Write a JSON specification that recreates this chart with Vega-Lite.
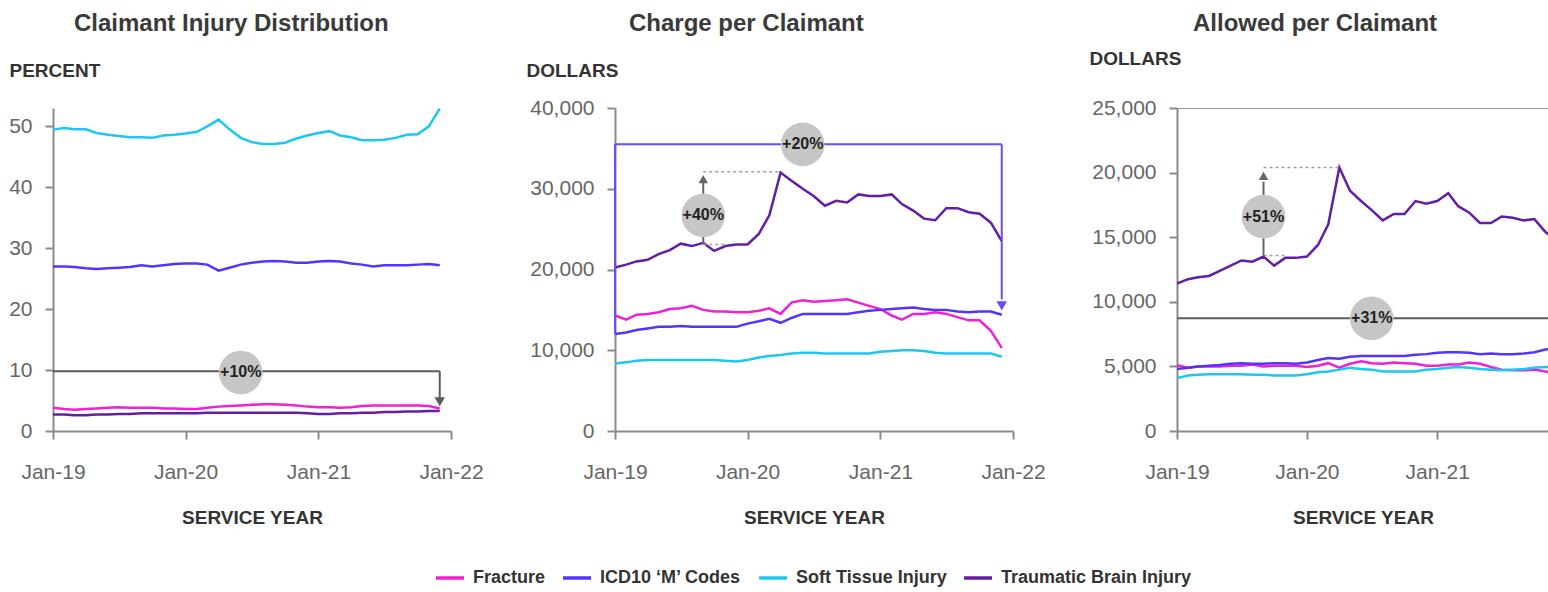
{
  "$schema": "https://vega.github.io/schema/vega-lite/v6.json",
  "padding": {"left": 8, "top": 12, "right": 0, "bottom": 0},
  "bounds": "flush",
  "spacing": 164,
  "datasets": {
    "claims": [
      {"date": "2019-01-01", "Fracture": 3.8, "ICD10 ‘M’ Codes": 27.0, "Soft Tissue Injury": 49.45, "Traumatic Brain Injury": 2.7},
      {"date": "2019-02-01", "Fracture": 3.6, "ICD10 ‘M’ Codes": 27.0, "Soft Tissue Injury": 49.7, "Traumatic Brain Injury": 2.7},
      {"date": "2019-03-01", "Fracture": 3.5, "ICD10 ‘M’ Codes": 26.9, "Soft Tissue Injury": 49.5, "Traumatic Brain Injury": 2.6},
      {"date": "2019-04-01", "Fracture": 3.6, "ICD10 ‘M’ Codes": 26.7, "Soft Tissue Injury": 49.5, "Traumatic Brain Injury": 2.6},
      {"date": "2019-05-01", "Fracture": 3.7, "ICD10 ‘M’ Codes": 26.6, "Soft Tissue Injury": 48.9, "Traumatic Brain Injury": 2.7},
      {"date": "2019-06-01", "Fracture": 3.8, "ICD10 ‘M’ Codes": 26.7, "Soft Tissue Injury": 48.6, "Traumatic Brain Injury": 2.7},
      {"date": "2019-07-01", "Fracture": 3.9, "ICD10 ‘M’ Codes": 26.8, "Soft Tissue Injury": 48.4, "Traumatic Brain Injury": 2.8},
      {"date": "2019-08-01", "Fracture": 3.8, "ICD10 ‘M’ Codes": 26.9, "Soft Tissue Injury": 48.2, "Traumatic Brain Injury": 2.8},
      {"date": "2019-09-01", "Fracture": 3.8, "ICD10 ‘M’ Codes": 27.2, "Soft Tissue Injury": 48.2, "Traumatic Brain Injury": 2.9},
      {"date": "2019-10-01", "Fracture": 3.8, "ICD10 ‘M’ Codes": 27.0, "Soft Tissue Injury": 48.1, "Traumatic Brain Injury": 2.9},
      {"date": "2019-11-01", "Fracture": 3.7, "ICD10 ‘M’ Codes": 27.2, "Soft Tissue Injury": 48.5, "Traumatic Brain Injury": 2.9},
      {"date": "2019-12-01", "Fracture": 3.7, "ICD10 ‘M’ Codes": 27.4, "Soft Tissue Injury": 48.6, "Traumatic Brain Injury": 2.9},
      {"date": "2020-01-01", "Fracture": 3.6, "ICD10 ‘M’ Codes": 27.5, "Soft Tissue Injury": 48.8, "Traumatic Brain Injury": 2.9},
      {"date": "2020-02-01", "Fracture": 3.6, "ICD10 ‘M’ Codes": 27.5, "Soft Tissue Injury": 49.1, "Traumatic Brain Injury": 2.9},
      {"date": "2020-03-01", "Fracture": 3.8, "ICD10 ‘M’ Codes": 27.3, "Soft Tissue Injury": 50.0, "Traumatic Brain Injury": 3.0},
      {"date": "2020-04-01", "Fracture": 4.0, "ICD10 ‘M’ Codes": 26.3, "Soft Tissue Injury": 51.1, "Traumatic Brain Injury": 3.0},
      {"date": "2020-05-01", "Fracture": 4.1, "ICD10 ‘M’ Codes": 26.8, "Soft Tissue Injury": 49.5, "Traumatic Brain Injury": 3.0},
      {"date": "2020-06-01", "Fracture": 4.2, "ICD10 ‘M’ Codes": 27.3, "Soft Tissue Injury": 48.1, "Traumatic Brain Injury": 3.0},
      {"date": "2020-07-01", "Fracture": 4.3, "ICD10 ‘M’ Codes": 27.6, "Soft Tissue Injury": 47.4, "Traumatic Brain Injury": 3.0},
      {"date": "2020-08-01", "Fracture": 4.4, "ICD10 ‘M’ Codes": 27.8, "Soft Tissue Injury": 47.1, "Traumatic Brain Injury": 3.0},
      {"date": "2020-09-01", "Fracture": 4.4, "ICD10 ‘M’ Codes": 27.9, "Soft Tissue Injury": 47.1, "Traumatic Brain Injury": 3.0},
      {"date": "2020-10-01", "Fracture": 4.3, "ICD10 ‘M’ Codes": 27.8, "Soft Tissue Injury": 47.3, "Traumatic Brain Injury": 3.0},
      {"date": "2020-11-01", "Fracture": 4.2, "ICD10 ‘M’ Codes": 27.6, "Soft Tissue Injury": 48.0, "Traumatic Brain Injury": 3.0},
      {"date": "2020-12-01", "Fracture": 4.0, "ICD10 ‘M’ Codes": 27.6, "Soft Tissue Injury": 48.5, "Traumatic Brain Injury": 2.9},
      {"date": "2021-01-01", "Fracture": 3.9, "ICD10 ‘M’ Codes": 27.8, "Soft Tissue Injury": 48.9, "Traumatic Brain Injury": 2.8},
      {"date": "2021-02-01", "Fracture": 3.9, "ICD10 ‘M’ Codes": 27.9, "Soft Tissue Injury": 49.2, "Traumatic Brain Injury": 2.8},
      {"date": "2021-03-01", "Fracture": 3.8, "ICD10 ‘M’ Codes": 27.8, "Soft Tissue Injury": 48.5, "Traumatic Brain Injury": 2.9},
      {"date": "2021-04-01", "Fracture": 3.9, "ICD10 ‘M’ Codes": 27.5, "Soft Tissue Injury": 48.2, "Traumatic Brain Injury": 2.9},
      {"date": "2021-05-01", "Fracture": 4.1, "ICD10 ‘M’ Codes": 27.3, "Soft Tissue Injury": 47.7, "Traumatic Brain Injury": 3.0},
      {"date": "2021-06-01", "Fracture": 4.2, "ICD10 ‘M’ Codes": 27.0, "Soft Tissue Injury": 47.7, "Traumatic Brain Injury": 3.0},
      {"date": "2021-07-01", "Fracture": 4.2, "ICD10 ‘M’ Codes": 27.2, "Soft Tissue Injury": 47.8, "Traumatic Brain Injury": 3.1},
      {"date": "2021-08-01", "Fracture": 4.2, "ICD10 ‘M’ Codes": 27.2, "Soft Tissue Injury": 48.1, "Traumatic Brain Injury": 3.1},
      {"date": "2021-09-01", "Fracture": 4.2, "ICD10 ‘M’ Codes": 27.2, "Soft Tissue Injury": 48.6, "Traumatic Brain Injury": 3.2},
      {"date": "2021-10-01", "Fracture": 4.2, "ICD10 ‘M’ Codes": 27.3, "Soft Tissue Injury": 48.7, "Traumatic Brain Injury": 3.2},
      {"date": "2021-11-01", "Fracture": 4.1, "ICD10 ‘M’ Codes": 27.4, "Soft Tissue Injury": 50.0, "Traumatic Brain Injury": 3.3},
      {"date": "2021-12-01", "Fracture": 3.7, "ICD10 ‘M’ Codes": 27.2, "Soft Tissue Injury": 52.9, "Traumatic Brain Injury": 3.3}
    ],
    "charge": [
      {"date": "2019-01-01", "Fracture": 14300, "ICD10 ‘M’ Codes": 12000, "Soft Tissue Injury": 8350, "Traumatic Brain Injury": 20250},
      {"date": "2019-02-01", "Fracture": 13800, "ICD10 ‘M’ Codes": 12200, "Soft Tissue Injury": 8500, "Traumatic Brain Injury": 20600},
      {"date": "2019-03-01", "Fracture": 14400, "ICD10 ‘M’ Codes": 12500, "Soft Tissue Injury": 8700, "Traumatic Brain Injury": 21000},
      {"date": "2019-04-01", "Fracture": 14500, "ICD10 ‘M’ Codes": 12700, "Soft Tissue Injury": 8800, "Traumatic Brain Injury": 21200},
      {"date": "2019-05-01", "Fracture": 14700, "ICD10 ‘M’ Codes": 12900, "Soft Tissue Injury": 8800, "Traumatic Brain Injury": 21900},
      {"date": "2019-06-01", "Fracture": 15100, "ICD10 ‘M’ Codes": 12900, "Soft Tissue Injury": 8800, "Traumatic Brain Injury": 22400},
      {"date": "2019-07-01", "Fracture": 15200, "ICD10 ‘M’ Codes": 13000, "Soft Tissue Injury": 8800, "Traumatic Brain Injury": 23200},
      {"date": "2019-08-01", "Fracture": 15500, "ICD10 ‘M’ Codes": 12900, "Soft Tissue Injury": 8800, "Traumatic Brain Injury": 22900},
      {"date": "2019-09-01", "Fracture": 15000, "ICD10 ‘M’ Codes": 12900, "Soft Tissue Injury": 8800, "Traumatic Brain Injury": 23300},
      {"date": "2019-10-01", "Fracture": 14800, "ICD10 ‘M’ Codes": 12900, "Soft Tissue Injury": 8800, "Traumatic Brain Injury": 22300},
      {"date": "2019-11-01", "Fracture": 14800, "ICD10 ‘M’ Codes": 12900, "Soft Tissue Injury": 8700, "Traumatic Brain Injury": 22900},
      {"date": "2019-12-01", "Fracture": 14700, "ICD10 ‘M’ Codes": 12900, "Soft Tissue Injury": 8600, "Traumatic Brain Injury": 23100},
      {"date": "2020-01-01", "Fracture": 14700, "ICD10 ‘M’ Codes": 13300, "Soft Tissue Injury": 8800, "Traumatic Brain Injury": 23100},
      {"date": "2020-02-01", "Fracture": 14900, "ICD10 ‘M’ Codes": 13600, "Soft Tissue Injury": 9100, "Traumatic Brain Injury": 24400},
      {"date": "2020-03-01", "Fracture": 15200, "ICD10 ‘M’ Codes": 13900, "Soft Tissue Injury": 9300, "Traumatic Brain Injury": 26700},
      {"date": "2020-04-01", "Fracture": 14500, "ICD10 ‘M’ Codes": 13400, "Soft Tissue Injury": 9400, "Traumatic Brain Injury": 32000},
      {"date": "2020-05-01", "Fracture": 15900, "ICD10 ‘M’ Codes": 14000, "Soft Tissue Injury": 9600, "Traumatic Brain Injury": 31000},
      {"date": "2020-06-01", "Fracture": 16200, "ICD10 ‘M’ Codes": 14500, "Soft Tissue Injury": 9700, "Traumatic Brain Injury": 30000},
      {"date": "2020-07-01", "Fracture": 16000, "ICD10 ‘M’ Codes": 14500, "Soft Tissue Injury": 9700, "Traumatic Brain Injury": 29100},
      {"date": "2020-08-01", "Fracture": 16100, "ICD10 ‘M’ Codes": 14500, "Soft Tissue Injury": 9600, "Traumatic Brain Injury": 27900},
      {"date": "2020-09-01", "Fracture": 16200, "ICD10 ‘M’ Codes": 14500, "Soft Tissue Injury": 9600, "Traumatic Brain Injury": 28500},
      {"date": "2020-10-01", "Fracture": 16300, "ICD10 ‘M’ Codes": 14500, "Soft Tissue Injury": 9600, "Traumatic Brain Injury": 28300},
      {"date": "2020-11-01", "Fracture": 15900, "ICD10 ‘M’ Codes": 14700, "Soft Tissue Injury": 9600, "Traumatic Brain Injury": 29300},
      {"date": "2020-12-01", "Fracture": 15500, "ICD10 ‘M’ Codes": 14900, "Soft Tissue Injury": 9600, "Traumatic Brain Injury": 29100},
      {"date": "2021-01-01", "Fracture": 15100, "ICD10 ‘M’ Codes": 15000, "Soft Tissue Injury": 9800, "Traumatic Brain Injury": 29100},
      {"date": "2021-02-01", "Fracture": 14300, "ICD10 ‘M’ Codes": 15100, "Soft Tissue Injury": 9900, "Traumatic Brain Injury": 29300},
      {"date": "2021-03-01", "Fracture": 13800, "ICD10 ‘M’ Codes": 15200, "Soft Tissue Injury": 10000, "Traumatic Brain Injury": 28100},
      {"date": "2021-04-01", "Fracture": 14500, "ICD10 ‘M’ Codes": 15300, "Soft Tissue Injury": 10000, "Traumatic Brain Injury": 27300},
      {"date": "2021-05-01", "Fracture": 14500, "ICD10 ‘M’ Codes": 15100, "Soft Tissue Injury": 9900, "Traumatic Brain Injury": 26300},
      {"date": "2021-06-01", "Fracture": 14700, "ICD10 ‘M’ Codes": 15000, "Soft Tissue Injury": 9700, "Traumatic Brain Injury": 26100},
      {"date": "2021-07-01", "Fracture": 14500, "ICD10 ‘M’ Codes": 15000, "Soft Tissue Injury": 9600, "Traumatic Brain Injury": 27600},
      {"date": "2021-08-01", "Fracture": 14100, "ICD10 ‘M’ Codes": 14800, "Soft Tissue Injury": 9600, "Traumatic Brain Injury": 27600},
      {"date": "2021-09-01", "Fracture": 13700, "ICD10 ‘M’ Codes": 14700, "Soft Tissue Injury": 9600, "Traumatic Brain Injury": 27100},
      {"date": "2021-10-01", "Fracture": 13700, "ICD10 ‘M’ Codes": 14800, "Soft Tissue Injury": 9600, "Traumatic Brain Injury": 26900},
      {"date": "2021-11-01", "Fracture": 12400, "ICD10 ‘M’ Codes": 14800, "Soft Tissue Injury": 9600, "Traumatic Brain Injury": 25800},
      {"date": "2021-12-01", "Fracture": 10300, "ICD10 ‘M’ Codes": 14400, "Soft Tissue Injury": 9200, "Traumatic Brain Injury": 23500}
    ],
    "allowed": [
      {"date": "2019-01-01", "Fracture": 5100, "ICD10 ‘M’ Codes": 4800, "Soft Tissue Injury": 4100, "Traumatic Brain Injury": 11400},
      {"date": "2019-02-01", "Fracture": 4900, "ICD10 ‘M’ Codes": 4900, "Soft Tissue Injury": 4300, "Traumatic Brain Injury": 11750},
      {"date": "2019-03-01", "Fracture": 5000, "ICD10 ‘M’ Codes": 5000, "Soft Tissue Injury": 4350, "Traumatic Brain Injury": 11900},
      {"date": "2019-04-01", "Fracture": 5000, "ICD10 ‘M’ Codes": 5050, "Soft Tissue Injury": 4400, "Traumatic Brain Injury": 12000},
      {"date": "2019-05-01", "Fracture": 5000, "ICD10 ‘M’ Codes": 5100, "Soft Tissue Injury": 4400, "Traumatic Brain Injury": 12400},
      {"date": "2019-06-01", "Fracture": 5050, "ICD10 ‘M’ Codes": 5200, "Soft Tissue Injury": 4400, "Traumatic Brain Injury": 12800},
      {"date": "2019-07-01", "Fracture": 5050, "ICD10 ‘M’ Codes": 5250, "Soft Tissue Injury": 4400, "Traumatic Brain Injury": 13200},
      {"date": "2019-08-01", "Fracture": 5150, "ICD10 ‘M’ Codes": 5200, "Soft Tissue Injury": 4350, "Traumatic Brain Injury": 13100},
      {"date": "2019-09-01", "Fracture": 5000, "ICD10 ‘M’ Codes": 5200, "Soft Tissue Injury": 4350, "Traumatic Brain Injury": 13500},
      {"date": "2019-10-01", "Fracture": 5050, "ICD10 ‘M’ Codes": 5250, "Soft Tissue Injury": 4300, "Traumatic Brain Injury": 12800},
      {"date": "2019-11-01", "Fracture": 5050, "ICD10 ‘M’ Codes": 5250, "Soft Tissue Injury": 4300, "Traumatic Brain Injury": 13400},
      {"date": "2019-12-01", "Fracture": 5050, "ICD10 ‘M’ Codes": 5200, "Soft Tissue Injury": 4300, "Traumatic Brain Injury": 13400},
      {"date": "2020-01-01", "Fracture": 4950, "ICD10 ‘M’ Codes": 5300, "Soft Tissue Injury": 4400, "Traumatic Brain Injury": 13500},
      {"date": "2020-02-01", "Fracture": 5050, "ICD10 ‘M’ Codes": 5500, "Soft Tissue Injury": 4550, "Traumatic Brain Injury": 14400},
      {"date": "2020-03-01", "Fracture": 5250, "ICD10 ‘M’ Codes": 5650, "Soft Tissue Injury": 4600, "Traumatic Brain Injury": 16000},
      {"date": "2020-04-01", "Fracture": 4900, "ICD10 ‘M’ Codes": 5600, "Soft Tissue Injury": 4750, "Traumatic Brain Injury": 20400},
      {"date": "2020-05-01", "Fracture": 5200, "ICD10 ‘M’ Codes": 5750, "Soft Tissue Injury": 4900, "Traumatic Brain Injury": 18600},
      {"date": "2020-06-01", "Fracture": 5400, "ICD10 ‘M’ Codes": 5800, "Soft Tissue Injury": 4800, "Traumatic Brain Injury": 17800},
      {"date": "2020-07-01", "Fracture": 5250, "ICD10 ‘M’ Codes": 5800, "Soft Tissue Injury": 4750, "Traumatic Brain Injury": 17100},
      {"date": "2020-08-01", "Fracture": 5200, "ICD10 ‘M’ Codes": 5800, "Soft Tissue Injury": 4600, "Traumatic Brain Injury": 16300},
      {"date": "2020-09-01", "Fracture": 5300, "ICD10 ‘M’ Codes": 5800, "Soft Tissue Injury": 4600, "Traumatic Brain Injury": 16800},
      {"date": "2020-10-01", "Fracture": 5250, "ICD10 ‘M’ Codes": 5800, "Soft Tissue Injury": 4600, "Traumatic Brain Injury": 16800},
      {"date": "2020-11-01", "Fracture": 5200, "ICD10 ‘M’ Codes": 5900, "Soft Tissue Injury": 4600, "Traumatic Brain Injury": 17800},
      {"date": "2020-12-01", "Fracture": 5050, "ICD10 ‘M’ Codes": 5950, "Soft Tissue Injury": 4750, "Traumatic Brain Injury": 17600},
      {"date": "2021-01-01", "Fracture": 5050, "ICD10 ‘M’ Codes": 6050, "Soft Tissue Injury": 4800, "Traumatic Brain Injury": 17800},
      {"date": "2021-02-01", "Fracture": 5150, "ICD10 ‘M’ Codes": 6100, "Soft Tissue Injury": 4900, "Traumatic Brain Injury": 18400},
      {"date": "2021-03-01", "Fracture": 5150, "ICD10 ‘M’ Codes": 6100, "Soft Tissue Injury": 4950, "Traumatic Brain Injury": 17400},
      {"date": "2021-04-01", "Fracture": 5300, "ICD10 ‘M’ Codes": 6050, "Soft Tissue Injury": 4900, "Traumatic Brain Injury": 16900},
      {"date": "2021-05-01", "Fracture": 5200, "ICD10 ‘M’ Codes": 5950, "Soft Tissue Injury": 4800, "Traumatic Brain Injury": 16100},
      {"date": "2021-06-01", "Fracture": 4950, "ICD10 ‘M’ Codes": 6000, "Soft Tissue Injury": 4750, "Traumatic Brain Injury": 16100},
      {"date": "2021-07-01", "Fracture": 4750, "ICD10 ‘M’ Codes": 5950, "Soft Tissue Injury": 4700, "Traumatic Brain Injury": 16600},
      {"date": "2021-08-01", "Fracture": 4700, "ICD10 ‘M’ Codes": 5950, "Soft Tissue Injury": 4750, "Traumatic Brain Injury": 16500},
      {"date": "2021-09-01", "Fracture": 4700, "ICD10 ‘M’ Codes": 6000, "Soft Tissue Injury": 4800, "Traumatic Brain Injury": 16300},
      {"date": "2021-10-01", "Fracture": 4750, "ICD10 ‘M’ Codes": 6100, "Soft Tissue Injury": 4900, "Traumatic Brain Injury": 16400},
      {"date": "2021-11-01", "Fracture": 4600, "ICD10 ‘M’ Codes": 6300, "Soft Tissue Injury": 4950, "Traumatic Brain Injury": 15400},
      {"date": "2021-12-01", "Fracture": 4500, "ICD10 ‘M’ Codes": 6400, "Soft Tissue Injury": 5000, "Traumatic Brain Injury": 14800}
    ]
  },
  "hconcat": [
    {
      "width": 398,
      "height": 323,
      "title": {"text": "Claimant Injury Distribution", "dx": 21, "offset": 25},
      "encoding": {
        "x": {"field": "date", "type": "temporal",
          "scale": {"type": "utc", "domain": [{"year": 2019, "month": 1, "date": 1, "utc": true}, {"year": 2022, "month": 1, "date": 1, "utc": true}]},
          "axis": {"values": [{"year": 2019, "month": 1, "date": 1, "utc": true}, {"year": 2020, "month": 1, "date": 1, "utc": true}, {"year": 2021, "month": 1, "date": 1, "utc": true}, {"year": 2022, "month": 1, "date": 1, "utc": true}], "labelExpr": "utcFormat(datum.value, '%b-%y')", "labelFlush": false, "title": "SERVICE YEAR"}},
        "y": {"field": "value", "type": "quantitative",
          "scale": {"domain": [0, 53], "nice": false},
          "axis": {"values": [0, 10, 20, 30, 40, 50], "title": "PERCENT", "titleAngle": 0, "titleAlign": "left", "titleBaseline": "middle", "titleX": -44, "titleY": -38}}
      },
      "layer": [
        {
          "data": {"name": "claims"},
          "transform": [{"fold": ["Fracture", "ICD10 ‘M’ Codes", "Soft Tissue Injury", "Traumatic Brain Injury"], "as": ["series", "value"]}],
          "mark": {"type": "line", "strokeWidth": 2.5},
          "encoding": {
            "color": {"field": "series", "type": "nominal",
              "scale": {"domain": ["Fracture", "ICD10 ‘M’ Codes", "Soft Tissue Injury", "Traumatic Brain Injury"], "range": ["#F020D4", "#5533FF", "#1CC8F0", "#621FA6"]},
              "legend": {"orient": "none", "legendX": 381, "legendY": 454, "direction": "horizontal", "title": null, "symbolType": "stroke", "symbolStrokeWidth": 3.5, "symbolSize": 784, "labelFontSize": 18, "labelFontWeight": "bold", "labelColor": "#333333", "labelLimit": 400, "columnPadding": 10, "labelOffset": 7}}
          }
        },
        {
          "data": {"values": [
            {"date": "2019-01-01", "date2": "2021-12-01", "value": 9.8, "value2": 9.8},
            {"date": "2021-12-01", "date2": "2021-12-01", "value": 9.8, "value2": 5.4}
          ]},
          "mark": {"type": "rule", "color": "#5a5a5a", "strokeWidth": 2},
          "encoding": {"x2": {"field": "date2"}, "y2": {"field": "value2"}}
        },
        {
          "data": {"values": [{"date": "2021-12-01", "value": 4.8}]},
          "mark": {"type": "point", "shape": "triangle-down", "filled": true, "size": 110, "color": "#5a5a5a", "opacity": 1}
        },
        {
          "data": {"values": [{"date": "2020-06-01", "value": 9.6, "label": "+10%"}]},
          "mark": {"type": "circle", "size": 1900, "color": "#c6c6c6", "opacity": 1}
        },
        {
          "data": {"values": [{"date": "2020-06-01", "value": 9.6, "label": "+10%"}]},
          "mark": {"type": "text", "fontSize": 16, "fontWeight": "bold", "color": "#222222"},
          "encoding": {"text": {"field": "label"}}
        }
      ]
    },
    {
      "width": 398,
      "height": 323,
      "title": {"text": "Charge per Claimant", "dx": 14, "offset": 25},
      "encoding": {
        "x": {"field": "date", "type": "temporal",
          "scale": {"type": "utc", "domain": [{"year": 2019, "month": 1, "date": 1, "utc": true}, {"year": 2022, "month": 1, "date": 1, "utc": true}]},
          "axis": {"values": [{"year": 2019, "month": 1, "date": 1, "utc": true}, {"year": 2020, "month": 1, "date": 1, "utc": true}, {"year": 2021, "month": 1, "date": 1, "utc": true}, {"year": 2022, "month": 1, "date": 1, "utc": true}], "labelExpr": "utcFormat(datum.value, '%b-%y')", "labelFlush": false, "title": "SERVICE YEAR"}},
        "y": {"field": "value", "type": "quantitative",
          "scale": {"domain": [0, 40000], "nice": false},
          "axis": {"values": [0, 10000, 20000, 30000, 40000], "format": ",d", "title": "DOLLARS", "titleAngle": 0, "titleAlign": "left", "titleBaseline": "middle", "titleX": -89, "titleY": -38}}
      },
      "layer": [
        {
          "data": {"name": "charge"},
          "transform": [{"fold": ["Fracture", "ICD10 ‘M’ Codes", "Soft Tissue Injury", "Traumatic Brain Injury"], "as": ["series", "value"]}],
          "mark": {"type": "line", "strokeWidth": 2.5},
          "encoding": {
            "color": {"field": "series", "type": "nominal",
              "scale": {"domain": ["Fracture", "ICD10 ‘M’ Codes", "Soft Tissue Injury", "Traumatic Brain Injury"], "range": ["#F020D4", "#5533FF", "#1CC8F0", "#621FA6"]},
              "legend": {"orient": "none", "legendX": 381, "legendY": 454, "direction": "horizontal", "title": null, "symbolType": "stroke", "symbolStrokeWidth": 3.5, "symbolSize": 784, "labelFontSize": 18, "labelFontWeight": "bold", "labelColor": "#333333", "labelLimit": 400, "columnPadding": 10, "labelOffset": 7}}
          }
        },
        {
          "data": {"values": [
            {"date": "2019-01-01", "date2": "2019-01-01", "value": 12000, "value2": 35500},
            {"date": "2019-01-01", "date2": "2021-12-01", "value": 35500, "value2": 35500},
            {"date": "2021-12-01", "date2": "2021-12-01", "value": 35500, "value2": 16300}
          ]},
          "mark": {"type": "rule", "color": "#6A4BFF", "strokeWidth": 2},
          "encoding": {"x2": {"field": "date2"}, "y2": {"field": "value2"}}
        },
        {
          "data": {"values": [{"date": "2021-12-01", "value": 15500}]},
          "mark": {"type": "point", "shape": "triangle-down", "filled": true, "size": 110, "color": "#6A4BFF", "opacity": 1}
        },
        {
          "data": {"values": [
            {"date": "2019-09-01", "date2": "2020-04-01", "value": 32100, "value2": 32100},
            {"date": "2019-09-01", "date2": "2019-11-01", "value": 23100, "value2": 23100}
          ]},
          "mark": {"type": "rule", "color": "#a0a0a0", "strokeWidth": 1.5, "strokeDash": [3, 3]},
          "encoding": {"x2": {"field": "date2"}, "y2": {"field": "value2"}}
        },
        {
          "data": {"values": [{"date": "2019-09-01", "date2": "2019-09-01", "value": 23100, "value2": 30800}]},
          "mark": {"type": "rule", "color": "#666666", "strokeWidth": 2},
          "encoding": {"x2": {"field": "date2"}, "y2": {"field": "value2"}}
        },
        {
          "data": {"values": [{"date": "2019-09-01", "value": 31200}]},
          "mark": {"type": "point", "shape": "triangle-up", "filled": true, "size": 90, "color": "#666666", "opacity": 1}
        },
        {
          "data": {"values": [{"date": "2020-06-01", "value": 35500, "label": "+20%"}, {"date": "2019-09-01", "value": 26700, "label": "+40%"}]},
          "mark": {"type": "circle", "size": 1900, "color": "#c6c6c6", "opacity": 1}
        },
        {
          "data": {"values": [{"date": "2020-06-01", "value": 35500, "label": "+20%"}, {"date": "2019-09-01", "value": 26700, "label": "+40%"}]},
          "mark": {"type": "text", "fontSize": 16, "fontWeight": "bold", "color": "#222222"},
          "encoding": {"text": {"field": "label"}}
        }
      ]
    },
    {
      "width": 372,
      "height": 323,
      "title": {"text": "Allowed per Claimant", "dx": 16, "offset": 13},
      "encoding": {
        "x": {"field": "date", "type": "temporal",
          "scale": {"type": "utc", "domain": [{"year": 2019, "month": 1, "date": 1, "utc": true}, {"year": 2021, "month": 11, "date": 11, "utc": true}]},
          "axis": {"values": [{"year": 2019, "month": 1, "date": 1, "utc": true}, {"year": 2020, "month": 1, "date": 1, "utc": true}, {"year": 2021, "month": 1, "date": 1, "utc": true}], "labelExpr": "utcFormat(datum.value, '%b-%y')", "labelFlush": false, "title": "SERVICE YEAR"}},
        "y": {"field": "value", "type": "quantitative",
          "scale": {"domain": [0, 25000], "nice": false},
          "axis": {"values": [0, 5000, 10000, 15000, 20000, 25000], "format": ",d", "title": "DOLLARS", "titleAngle": 0, "titleAlign": "left", "titleBaseline": "middle", "titleX": -88, "titleY": -50}}
      },
      "layer": [
        {
          "data": {"values": [{"date": "2019-01-01", "date2": "2022-01-01", "value": 25000, "value2": 25000}]},
          "mark": {"type": "rule", "color": "#9a9a9a", "strokeWidth": 2, "clip": true},
          "encoding": {"x2": {"field": "date2"}, "y2": {"field": "value2"}}
        },
        {
          "data": {"name": "allowed"},
          "transform": [{"fold": ["Fracture", "ICD10 ‘M’ Codes", "Soft Tissue Injury", "Traumatic Brain Injury"], "as": ["series", "value"]}],
          "mark": {"type": "line", "strokeWidth": 2.5, "clip": true},
          "encoding": {
            "color": {"field": "series", "type": "nominal",
              "scale": {"domain": ["Fracture", "ICD10 ‘M’ Codes", "Soft Tissue Injury", "Traumatic Brain Injury"], "range": ["#F020D4", "#5533FF", "#1CC8F0", "#621FA6"]},
              "legend": {"orient": "none", "legendX": 381, "legendY": 454, "direction": "horizontal", "title": null, "symbolType": "stroke", "symbolStrokeWidth": 3.5, "symbolSize": 784, "labelFontSize": 18, "labelFontWeight": "bold", "labelColor": "#333333", "labelLimit": 400, "columnPadding": 10, "labelOffset": 7}}
          }
        },
        {
          "data": {"values": [{"date": "2019-01-01", "date2": "2021-12-01", "value": 8720, "value2": 8720}]},
          "mark": {"type": "rule", "color": "#5a5a5a", "strokeWidth": 2, "clip": true},
          "encoding": {"x2": {"field": "date2"}, "y2": {"field": "value2"}}
        },
        {
          "data": {"values": [
            {"date": "2019-09-01", "date2": "2020-04-01", "value": 20400, "value2": 20400},
            {"date": "2019-09-01", "date2": "2019-11-01", "value": 13580, "value2": 13580}
          ]},
          "mark": {"type": "rule", "color": "#a0a0a0", "strokeWidth": 1.5, "strokeDash": [3, 3]},
          "encoding": {"x2": {"field": "date2"}, "y2": {"field": "value2"}}
        },
        {
          "data": {"values": [{"date": "2019-09-01", "date2": "2019-09-01", "value": 13580, "value2": 19300}]},
          "mark": {"type": "rule", "color": "#666666", "strokeWidth": 2},
          "encoding": {"x2": {"field": "date2"}, "y2": {"field": "value2"}}
        },
        {
          "data": {"values": [{"date": "2019-09-01", "value": 19750}]},
          "mark": {"type": "point", "shape": "triangle-up", "filled": true, "size": 90, "color": "#666666", "opacity": 1}
        },
        {
          "data": {"values": [{"date": "2019-09-01", "value": 16590, "label": "+51%"}, {"date": "2020-07-01", "value": 8720, "label": "+31%"}]},
          "mark": {"type": "circle", "size": 1900, "color": "#c6c6c6", "opacity": 1}
        },
        {
          "data": {"values": [{"date": "2019-09-01", "value": 16590, "label": "+51%"}, {"date": "2020-07-01", "value": 8720, "label": "+31%"}]},
          "mark": {"type": "text", "fontSize": 16, "fontWeight": "bold", "color": "#222222"},
          "encoding": {"text": {"field": "label"}}
        }
      ]
    }
  ],
  "config": {
    "view": {"stroke": null},
    "font": "Liberation Sans",
    "axis": {"grid": false, "domainColor": "#8a8a8a", "domainWidth": 2, "tickColor": "#8a8a8a", "tickWidth": 2, "tickSize": 8, "labelColor": "#666666", "labelFontSize": 21, "labelFont": "Liberation Sans", "titleFont": "Liberation Sans", "titleFontSize": 19, "titleFontWeight": "bold", "titleColor": "#333333"},
    "axisY": {"labelPadding": 13},
    "axisX": {"labelPadding": 22, "titlePadding": 26},
    "title": {"fontSize": 24, "fontWeight": "bold", "color": "#3a3a3a", "anchor": "start", "frame": "group", "font": "Liberation Sans"},
    "legend": {"labelFont": "Liberation Sans"}
  }
}
